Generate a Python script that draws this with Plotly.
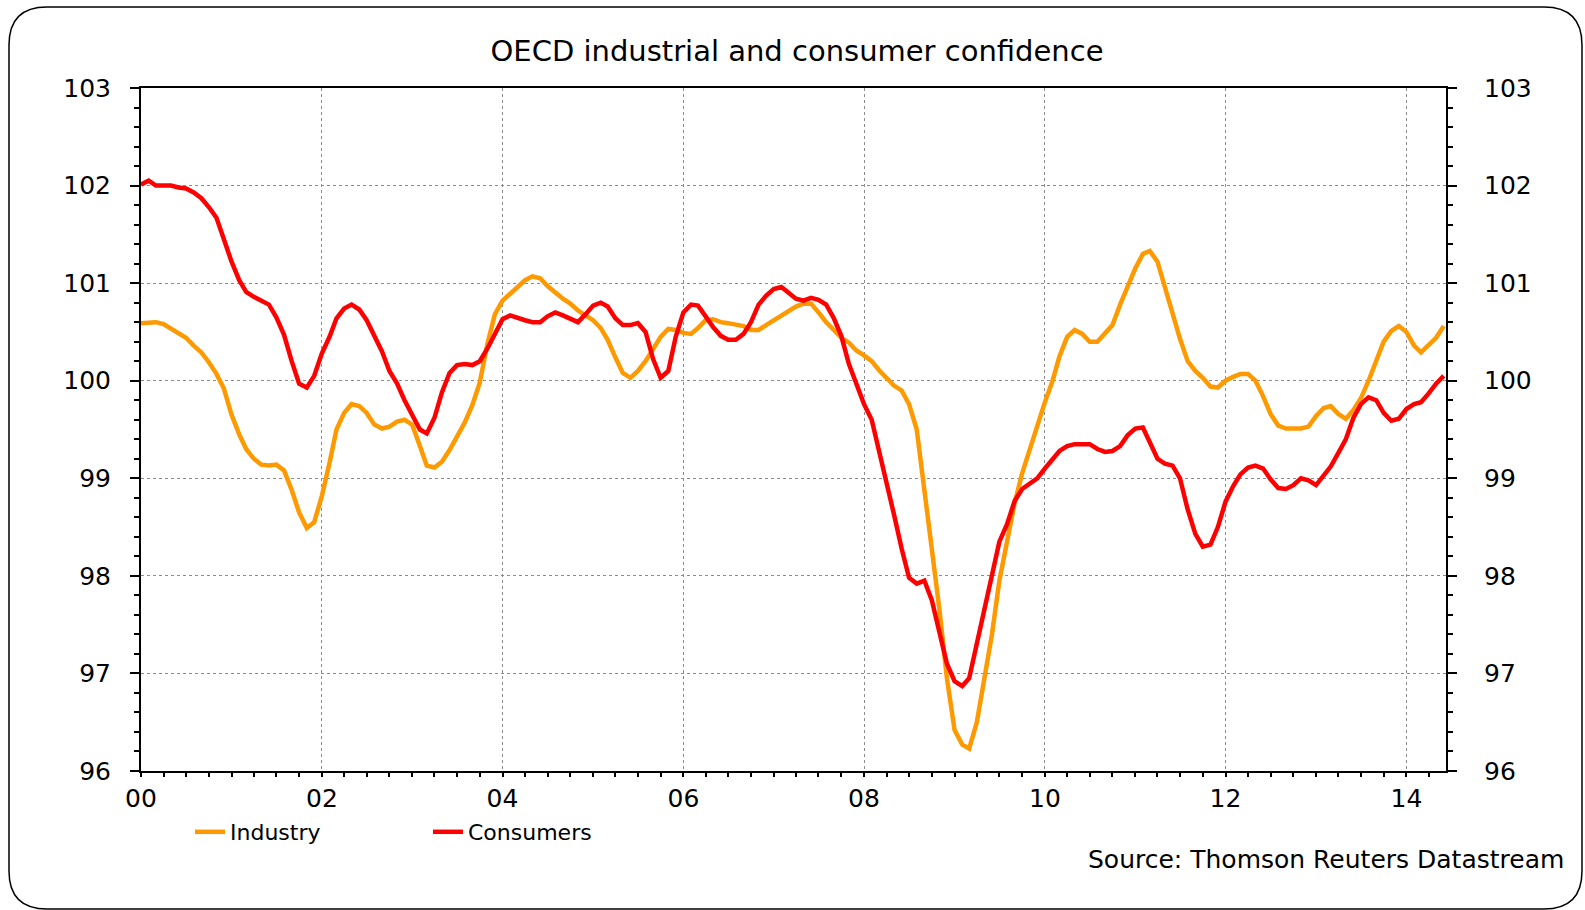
import plotly.graph_objects as go

# ---- data (monthly, Jan 2000 - Jun 2014) ----
industry = [
    100.59, 100.60, 100.60, 100.58, 100.53, 100.48, 100.44, 100.36, 100.29, 100.19, 100.07, 99.92,
    99.65, 99.45, 99.30, 99.20, 99.14, 99.13, 99.14, 99.08, 98.88, 98.65, 98.49, 98.55,
    98.82, 99.16, 99.50, 99.67, 99.76, 99.74, 99.67, 99.55, 99.51, 99.53, 99.58, 99.60,
    99.55, 99.33, 99.13, 99.11, 99.17, 99.29, 99.42, 99.57, 99.75, 99.98, 100.38, 100.68,
    100.82, 100.89, 100.95, 101.03, 101.07, 101.05, 100.97, 100.90, 100.84, 100.79, 100.72, 100.67,
    100.62, 100.54, 100.42, 100.24, 100.08, 100.03, 100.10, 100.20, 100.33, 100.45, 100.53, 100.52,
    100.49, 100.48, 100.54, 100.62, 100.63, 100.60, 100.59, 100.58, 100.56, 100.52, 100.52, 100.57,
    100.62, 100.66, 100.71, 100.76, 100.79, 100.79, 100.70, 100.60, 100.52, 100.44, 100.39, 100.31,
    100.26, 100.20, 100.11, 100.02, 99.95, 99.90, 99.76, 99.50, 98.90, 98.25, 97.65, 96.95,
    96.42, 96.27, 96.23, 96.50, 96.95, 97.40, 97.95, 98.35, 98.75, 99.05, 99.30, 99.55,
    99.78, 100.00, 100.25, 100.45, 100.52, 100.48, 100.40, 100.40, 100.48, 100.57, 100.78, 100.97,
    101.15, 101.30, 101.33, 101.22, 100.95, 100.68, 100.43, 100.20, 100.10, 100.03, 99.94, 99.93,
    100.00, 100.04, 100.07, 100.07, 100.00, 99.84, 99.66, 99.54, 99.51, 99.51, 99.51, 99.53,
    99.64, 99.72, 99.74, 99.66, 99.61, 99.70, 99.82, 100.00, 100.20, 100.40, 100.51, 100.56,
    100.50, 100.36, 100.29, 100.36, 100.44, 100.56,
]
consumers = [
    102.01, 102.05, 102.00, 102.00, 102.00, 101.98, 101.97, 101.93, 101.87, 101.78, 101.67, 101.45,
    101.22, 101.03, 100.91, 100.86, 100.82, 100.78, 100.65, 100.47, 100.20, 99.97, 99.93, 100.05,
    100.28, 100.45, 100.64, 100.74, 100.78, 100.73, 100.62, 100.47, 100.30, 100.10, 99.97, 99.80,
    99.64, 99.50, 99.46, 99.62, 99.88, 100.08, 100.16, 100.17, 100.16, 100.20, 100.33, 100.48,
    100.63, 100.67, 100.64, 100.62, 100.60, 100.60, 100.66, 100.70, 100.67, 100.63, 100.60, 100.68,
    100.77, 100.80, 100.76, 100.64, 100.57, 100.57, 100.59, 100.50, 100.22, 100.03, 100.10, 100.45,
    100.70, 100.78, 100.77, 100.66, 100.55, 100.46, 100.42, 100.42, 100.48, 100.60, 100.78, 100.87,
    100.94, 100.96, 100.90, 100.84, 100.82, 100.85, 100.83, 100.78, 100.64, 100.46, 100.17, 99.97,
    99.76, 99.60, 99.30, 98.95, 98.63, 98.28, 97.98, 97.92, 97.95, 97.75, 97.42, 97.10,
    96.92, 96.87, 96.95, 97.30, 97.68, 98.00, 98.35, 98.53, 98.77, 98.89, 98.95, 99.00,
    99.10, 99.20, 99.28, 99.33, 99.35, 99.35, 99.35, 99.30, 99.27, 99.28, 99.33, 99.44,
    99.51, 99.52, 99.38, 99.20, 99.15, 99.13, 99.00, 98.68, 98.43, 98.30, 98.32, 98.50,
    98.76, 98.92, 99.04, 99.11, 99.13, 99.10, 98.99, 98.90, 98.89, 98.93, 99.00, 98.98,
    98.93, 99.03, 99.12, 99.26, 99.40, 99.62, 99.76, 99.83, 99.80, 99.67, 99.59, 99.61,
    99.71, 99.76, 99.78, 99.87, 99.97, 100.05,
]
months = [f"{2000 + i // 12}-{i % 12 + 1:02d}-01" for i in range(len(industry))]

series_names = ["Industry", "Consumers"]
series_colors = ["#FF9900", "#FF0000"]

title_text = "OECD industrial and consumer confidence"
source_text = "Source: Thomson Reuters Datastream"

# ---- layout geometry ----
W, H = 1585, 910
ML, MR, MT, MB = 141, 139, 88, 139
PW, PH = W - ML - MR, H - MT - MB
FONT = "DejaVu Sans, Liberation Sans, Arial, sans-serif"


def px_x(v):
    return (v - ML) / PW


def px_y(v):
    return (H - MB - v) / PH


fig = go.Figure()
for name, vals, col in zip(series_names, [industry, consumers], series_colors):
    fig.add_trace(go.Scatter(x=months, y=vals, name=name, mode="lines",
                             line=dict(color=col, width=4.5)))
# helper trace so the right-hand axis is drawn
fig.add_trace(go.Scatter(x=months, y=consumers, yaxis="y2", mode="lines",
                         line=dict(width=0, color="rgba(0,0,0,0)"),
                         showlegend=False, hoverinfo="skip"))

axis_common = dict(
    showline=True, linecolor="black", linewidth=2,
    ticks="outside", tickcolor="black", tickwidth=2,
    tickfont=dict(family=FONT, size=25, color="black"),
    zeroline=False,
)

fig.update_layout(
    width=W, height=H, autosize=False,
    margin=dict(l=ML, r=MR, t=MT, b=MB, pad=0),
    paper_bgcolor="white", plot_bgcolor="white",
    title=dict(text=title_text, x=797 / W, xref="container", xanchor="center",
               y=1 - 51 / H, yref="container", yanchor="middle",
               font=dict(family=FONT, size=29, color="black")),
    xaxis=dict(
        type="date", range=["2000-01-01", "2014-06-10"],
        dtick="M24", tick0="2000-01-01", tickformat="%y", ticklen=4,
        mirror=True, showgrid=True, gridcolor="#8c8c8c", gridwidth=1, griddash="dot",
        minor=dict(dtick="M3", tick0="2000-01-01", ticks="outside", ticklen=4,
                   tickcolor="black", tickwidth=1.5, showgrid=False),
        **axis_common,
    ),
    yaxis=dict(
        range=[96, 103], dtick=1, tick0=96, ticklen=9, ticklabelstandoff=14,
        showgrid=True, gridcolor="#8c8c8c", gridwidth=1, griddash="dot",
        minor=dict(dtick=0.2, tick0=96, ticks="outside", ticklen=5,
                   tickcolor="black", tickwidth=1.5, showgrid=False),
        **axis_common,
    ),
    yaxis2=dict(
        range=[96, 103], dtick=1, tick0=96, ticklen=9, ticklabelstandoff=22,
        overlaying="y", side="right", showgrid=False,
        minor=dict(dtick=0.2, tick0=96, ticks="outside", ticklen=5,
                   tickcolor="black", tickwidth=1.5, showgrid=False),
        **axis_common,
    ),
    legend=dict(orientation="h", x=px_x(190), xanchor="left",
                y=px_y(832), yanchor="middle",
                font=dict(family=FONT, size=22, color="black"),
                entrywidth=193, entrywidthmode="pixels",
                bgcolor="rgba(0,0,0,0)", traceorder="normal"),
    showlegend=True,
)

fig.add_annotation(text=source_text, xref="paper", yref="paper",
                   x=px_x(1566), y=px_y(859), xanchor="right", yanchor="middle",
                   showarrow=False, font=dict(family=FONT, size=25, color="black"))

# rounded outer frame
x0, y0, x1, y1, r = 9, 7, 1582, 909, 38
pts = [
    ("M", [(x0 + r, y0)]), ("L", [(x1 - r, y0)]), ("Q", [(x1, y0), (x1, y0 + r)]),
    ("L", [(x1, y1 - r)]), ("Q", [(x1, y1), (x1 - r, y1)]),
    ("L", [(x0 + r, y1)]), ("Q", [(x0, y1), (x0, y1 - r)]),
    ("L", [(x0, y0 + r)]), ("Q", [(x0, y0), (x0 + r, y0)]),
]
path = " ".join(cmd + " " + " ".join(f"{px_x(a):.5f},{px_y(b):.5f}" for a, b in p) for cmd, p in pts) + " Z"
fig.add_shape(type="path", path=path, xref="paper", yref="paper",
              line=dict(color="black", width=1.5), fillcolor="rgba(0,0,0,0)", layer="above")

fig.write_html("out.html", config={"displayModeBar": False},
               post_script="document.body.style.margin='0';")
